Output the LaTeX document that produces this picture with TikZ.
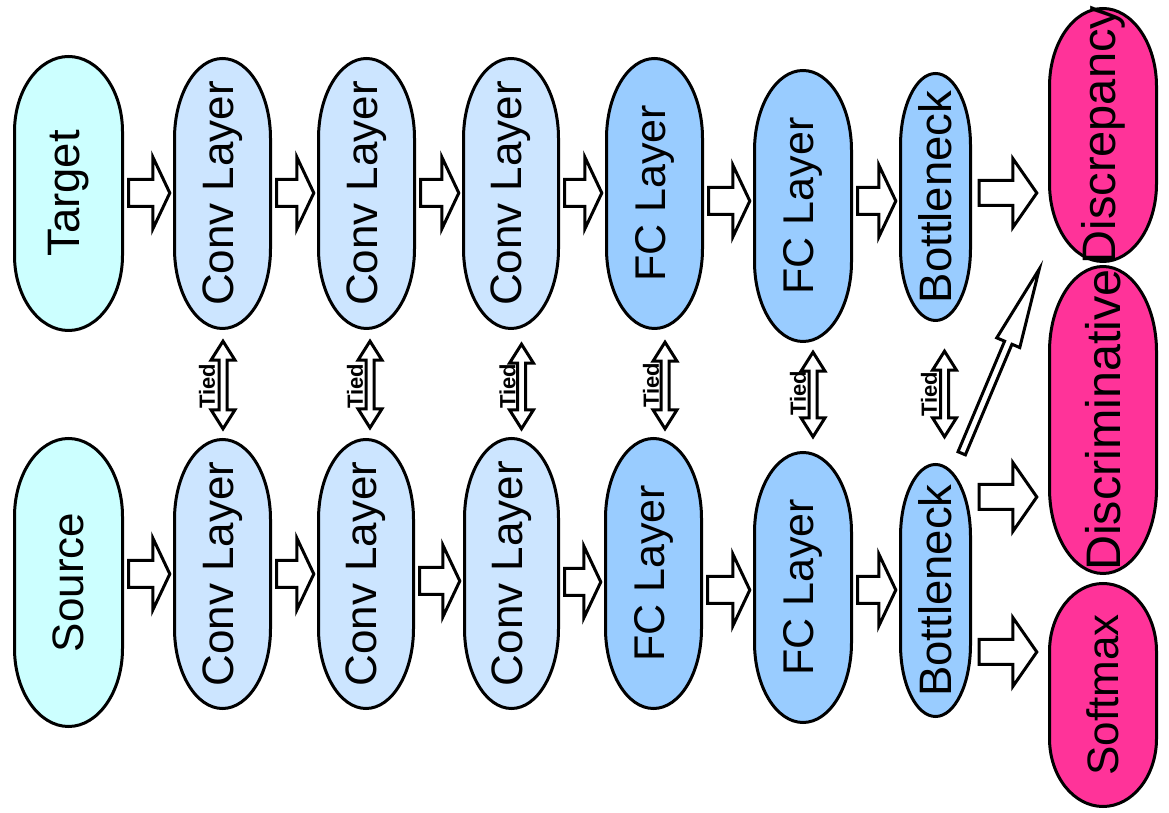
\documentclass[tikz,border=0pt]{standalone}
\usepackage{fontspec}
\setmainfont{Liberation Sans}
\usepackage{graphicx}
\usetikzlibrary{calc}
\definecolor{cyanfill}{HTML}{CCFFFF}
\definecolor{convfill}{HTML}{CCE5FF}
\definecolor{fcfill}{HTML}{99CCFF}
\definecolor{pinkfill}{HTML}{FF3399}
\tikzset{
  outline/.style={draw=black, line width=3pt},
  lbl/.style={inner sep=0pt},
  tiedlbl/.style={inner sep=0pt, font=\bfseries\fontsize{22}{26}\selectfont, rotate=90},
  blockarrow/.style={draw=black, fill=white, line width=3pt, line join=miter},
}
% name, cx, cy, half width, half height, end radius, fill, text, font size
\newcommand\stad[9]{%
  \draw[outline, fill=#7] (#2+#4,#3+#5-#6) arc[start angle=0, end angle=180, x radius=#4, y radius=#6]
     -- (#2-#4,#3-#5+#6) arc[start angle=180, end angle=360, x radius=#4, y radius=#6] -- cycle;
  \node[lbl, font=\fontsize{#9}{#9}\selectfont, minimum width=2*#4, minimum height=2*#5] (#1) at (#2,#3) {\rotatebox{90}{#8}};}
% start, end, shaft half, head half, head length
\newcommand\barrow[5]{%
  \path (#1) coordinate (ba) (#2) coordinate (bb);
  \path ($(bb)!#5!(ba)$) coordinate (bh);
  \draw[blockarrow] ($(ba)!#3!90:(bb)$) -- ($(bh)!#3!90:(bb)$) -- ($(bh)!#4!90:(bb)$) -- (bb)
     -- ($(bh)!#4!-90:(bb)$) -- ($(bh)!#3!-90:(bb)$) -- ($(ba)!#3!-90:(bb)$) -- cycle;}
\newcommand\darrow[5]{%
  \path (#1) coordinate (da) (#2) coordinate (db);
  \path ($(da)!#5!(db)$) coordinate (dha) ($(db)!#5!(da)$) coordinate (dhb);
  \draw[blockarrow] (da) -- ($(dha)!#4!90:(db)$) -- ($(dha)!#3!90:(db)$) -- ($(dhb)!#3!90:(db)$)
     -- ($(dhb)!#4!90:(db)$) -- (db) -- ($(dhb)!#4!-90:(db)$) -- ($(dhb)!#3!-90:(db)$)
     -- ($(dha)!#3!-90:(db)$) -- ($(dha)!#4!-90:(db)$) -- cycle;}
\begin{document}
\begin{tikzpicture}[x=1pt, y=1pt]
\useasboundingbox[fill=white] (0,0) rectangle (1169,813);
% top row
\stad{target}{68.5}{619.5}{54}{137}{75}{cyanfill}{Target}{45.5}
\stad{c1t}{222.5}{619.5}{48}{135}{80}{convfill}{Conv Layer}{44}
\stad{c2t}{366.5}{619.5}{48}{135}{80}{convfill}{Conv Layer}{44}
\stad{c3t}{511}{619.5}{47.5}{135}{80}{convfill}{Conv Layer}{44}
\stad{f1t}{654.5}{619.5}{48}{135}{80}{fcfill}{FC Layer}{43}
\stad{f2t}{803}{607}{48.5}{135.5}{80}{fcfill}{FC Layer}{43}
\stad{bnt}{935.5}{616}{35}{123.5}{72}{fcfill}{Bottleneck}{45.5}
% bottom row
\stad{source}{68.5}{230.5}{54}{144}{78}{cyanfill}{Source}{44}
\stad{c1b}{222.5}{239}{48}{134.5}{80}{convfill}{Conv Layer}{44}
\stad{c2b}{366}{239}{47.5}{134.5}{80}{convfill}{Conv Layer}{44}
\stad{c3b}{511.5}{239.5}{47}{135}{80}{convfill}{Conv Layer}{44}
\stad{f1b}{653.5}{239.5}{48}{135}{80}{fcfill}{FC Layer}{43}
\stad{f2b}{803}{225.5}{48.5}{135}{80}{fcfill}{FC Layer}{43}
\stad{bnb}{935.5}{222.5}{35}{126}{72}{fcfill}{Bottleneck}{45.5}
% outputs
\stad{disc}{1103}{678}{53.5}{126.5}{78}{pinkfill}{Discrepancy}{47}
\stad{discr}{1103}{393}{53.5}{153.5}{85}{pinkfill}{Discriminative}{48.5}
\stad{soft}{1103}{118}{53.5}{111.5}{68}{pinkfill}{Softmax}{44}
% top row arrows
\barrow{$(target.east)+(6,0.5)$}{$(c1t.west)+(-4.5,0.5)$}{13.5pt}{36pt}{17pt}
\barrow{$(c1t.east)+(6,0.5)$}{$(c2t.west)+(-4.5,0.5)$}{13.5pt}{36pt}{17pt}
\barrow{$(c2t.east)+(6,0.5)$}{$(c3t.west)+(-4.5,0.5)$}{13.5pt}{36pt}{17pt}
\barrow{$(c3t.east)+(6,0.5)$}{$(f1t.west)+(-4.5,0.5)$}{13.5pt}{36pt}{17pt}
\barrow{$(f1t.east)+(6,-7.5)$}{$(f2t.west)+(-4.5,5)$}{13.5pt}{36pt}{17pt}
\barrow{$(f2t.east)+(6,5)$}{$(bnt.west)+(-4.5,-4)$}{13.5pt}{36pt}{17pt}
\barrow{$(bnt.east)+(8.5,4)$}{$(disc.west)+(-12.5,-58)$}{12.5pt}{34.5pt}{24pt}
% bottom row arrows
\barrow{$(source.east)+(6,8.5)$}{$(c1b.west)+(-4.5,0)$}{13.5pt}{36pt}{17pt}
\barrow{$(c1b.east)+(6,0)$}{$(c2b.west)+(-4.5,0)$}{13.5pt}{36pt}{17pt}
\barrow{$(c2b.east)+(6,-7)$}{$(c3b.west)+(-4.5,-7.5)$}{13.5pt}{36pt}{17pt}
\barrow{$(c3b.east)+(6,-8.5)$}{$(f1b.west)+(-4.5,-8.5)$}{13.5pt}{36pt}{17pt}
\barrow{$(f1b.east)+(6,-16.5)$}{$(f2b.west)+(-4.5,-2.5)$}{13.5pt}{36pt}{17pt}
\barrow{$(f2b.east)+(6,-2.5)$}{$(bnb.west)+(-4.5,0.5)$}{13.5pt}{36pt}{17pt}
\barrow{$(bnb.east)+(8.5,93.5)$}{$(discr.west)+(-12.5,-77)$}{12.5pt}{34.5pt}{24pt}
\barrow{$(bnb.east)+(8.5,-61.5)$}{$(soft.west)+(-12.5,43)$}{12.5pt}{34.5pt}{24pt}
% diagonal arrow
\barrow{$(bnb.north east)+(-9,11)$}{$(disc.south west)+(-10,-4.5)$}{4pt}{12.5pt}{80pt}
% tied arrows
\darrow{$(c1t.south)+(0.5,-12.5)$}{$(c1b.north)+(0.5,10.5)$}{4pt}{12pt}{19pt}
\darrow{$(c2t.south)+(3.5,-12.5)$}{$(c2b.north)+(4,11.5)$}{4pt}{12pt}{19pt}
\darrow{$(c3t.south)+(10.5,-15.5)$}{$(c3b.north)+(10,9.5)$}{4pt}{12pt}{19pt}
\darrow{$(f1t.south)+(10.5,-13.5)$}{$(f1b.north)+(11.5,9.5)$}{4pt}{12pt}{19pt}
\darrow{$(f2t.south)+(10,-10.5)$}{$(f2b.north)+(10,15.5)$}{4pt}{12pt}{19pt}
\darrow{$(bnt.south)+(9,-30.5)$}{$(bnb.north)+(9,27.5)$}{4pt}{12pt}{19pt}
% tied labels
\node[tiedlbl] (tied1) at (207,427) {Tied};
\node[tiedlbl] (tied2) at (355,427) {Tied};
\node[tiedlbl] (tied3) at (507.5,426.5) {Tied};
\node[tiedlbl] (tied4) at (651,427.5) {Tied};
\node[tiedlbl] (tied5) at (798,419.5) {Tied};
\node[tiedlbl] (tied6) at (929,419) {Tied};
\end{tikzpicture}
\end{document}
